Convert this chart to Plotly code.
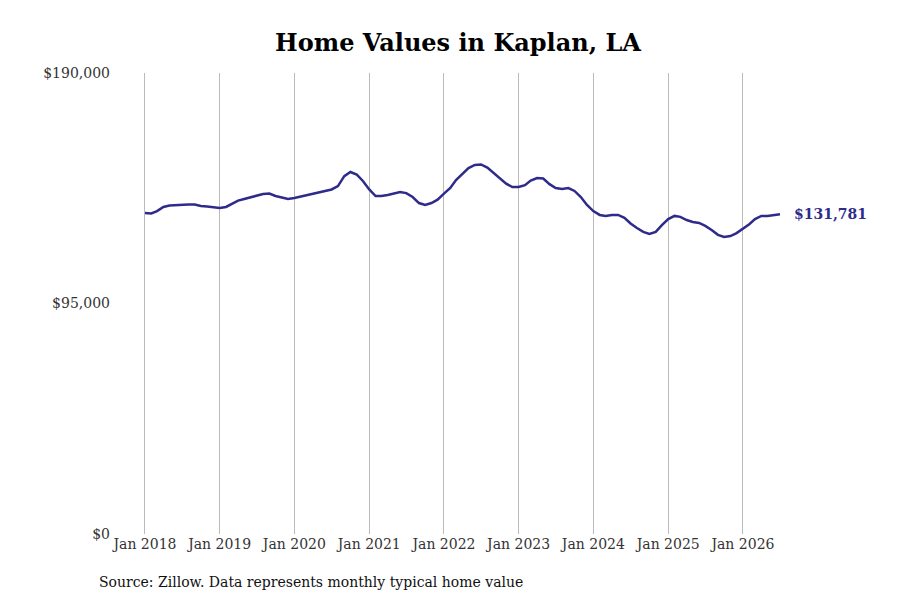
import plotly.graph_objects as go
import pandas as pd

dates = pd.date_range("2018-01-01", periods=103, freq="MS")
values_k = [132.3,132.1,133.1,134.8,135.4,135.6,135.6,135.8,135.8,135.2,135.0,134.8,
134.4,134.8,136.0,137.4,138.1,138.7,139.5,140.1,140.3,139.3,138.7,138.1,
138.5,139.1,139.7,140.5,140.9,141.4,142.0,143.4,147.5,149.2,148.1,145.5,
142.0,139.3,139.3,139.7,140.3,140.9,140.5,138.9,136.4,135.6,136.4,137.8,
140.3,142.6,145.9,148.4,150.8,152.1,152.3,151.0,148.8,146.7,144.4,143.0,
143.0,143.8,145.7,146.7,146.5,144.2,142.6,142.2,142.6,141.4,138.9,135.6,
133.1,131.5,131.1,131.5,131.5,130.3,128.0,126.1,124.5,123.7,124.5,127.3,
129.8,131.1,130.7,129.4,128.6,128.2,127.0,125.3,123.3,122.4,122.8,124.0,
125.7,127.7,129.8,131.1,131.1,131.5,131.781]
values = [v * 1000 for v in values_k]
tick_dates = pd.date_range("2018-01-01", periods=9, freq="YS")
tick_text = [f"Jan {d.year}" for d in tick_dates]
color = "#2e2b8a"
font = "DejaVu Serif"

fig = go.Figure(go.Scatter(x=dates, y=values, mode="lines",
                           line=dict(color=color, width=2.5), hoverinfo="skip"))
fig.add_annotation(x=dates[-1], y=values[-1], text=f"<b>${values[-1]:,.0f}</b>",
                   showarrow=False, xanchor="left", xshift=12,
                   font=dict(family=font, size=14, color=color))
fig.add_annotation(x=0, y=0, xref="paper", yref="paper", xanchor="left", yanchor="top",
                   xshift=-14, yshift=-38, showarrow=False,
                   text="Source: Zillow. Data represents monthly typical home value",
                   font=dict(family=font, size=14, color="#111"))
fig.update_layout(
    width=900, height=600, plot_bgcolor="white", paper_bgcolor="white",
    margin=dict(l=103, r=47, t=65, b=74), showlegend=False,
    title=dict(text="<b>Home Values in Kaplan, LA</b>", x=0.5, xanchor="center",
               y=0.942, yanchor="middle", font=dict(family=font, size=24, color="black")),
    xaxis=dict(range=["2017-07-19", "2027-08-01"], tickvals=tick_dates, ticktext=tick_text,
               showgrid=True, gridcolor="#bbbbbb", gridwidth=1, zeroline=False,
               showline=False, ticks="", tickfont=dict(family=font, size=14, color="#333")),
    yaxis=dict(range=[0, 190000], tickvals=[0, 95000, 190000],
               ticktext=["$0", "$95,000", "$190,000"], showgrid=False, zeroline=False,
               ticks="", tickfont=dict(family=font, size=14, color="#333")),
)
fig.write_html("out.html")
